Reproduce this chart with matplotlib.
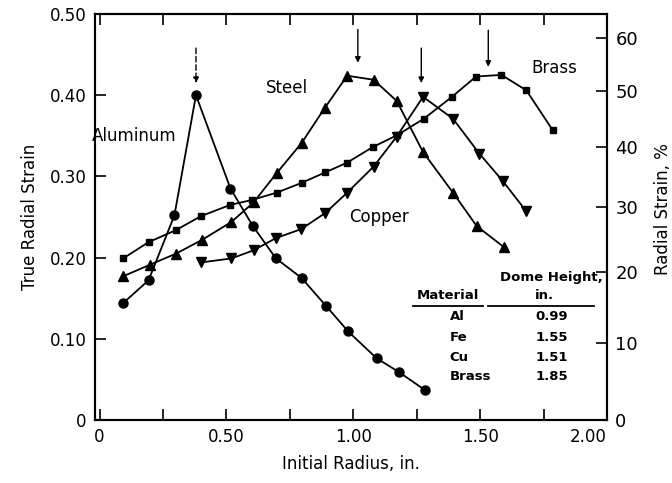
import numpy as np
import matplotlib
matplotlib.use("Agg")
import matplotlib.pyplot as plt

# values
al_x = [0.093, 0.193, 0.295, 0.380, 0.516, 0.604, 0.695, 0.796, 0.894, 0.980, 1.092, 1.180, 1.282]
al_y = [0.144, 0.172, 0.252, 0.400, 0.285, 0.239, 0.199, 0.175, 0.140, 0.109, 0.076, 0.059, 0.037]

steel_x = [0.093, 0.197, 0.302, 0.405, 0.520, 0.607, 0.698, 0.796, 0.887, 0.976, 1.080, 1.171, 1.275, 1.393, 1.486, 1.593]
steel_y = [0.177, 0.191, 0.205, 0.222, 0.244, 0.268, 0.304, 0.341, 0.384, 0.424, 0.419, 0.393, 0.330, 0.280, 0.239, 0.213]

brass_x = [0.093, 0.193, 0.302, 0.399, 0.516, 0.601, 0.698, 0.796, 0.890, 0.976, 1.076, 1.174, 1.278, 1.389, 1.484, 1.584, 1.682, 1.786]
brass_y = [0.199, 0.219, 0.234, 0.251, 0.265, 0.271, 0.280, 0.292, 0.305, 0.317, 0.336, 0.351, 0.371, 0.398, 0.423, 0.425, 0.406, 0.357]

cu_x = [0.399, 0.520, 0.607, 0.695, 0.794, 0.890, 0.976, 1.080, 1.171, 1.275, 1.393, 1.497, 1.590, 1.682]
cu_y = [0.194, 0.199, 0.209, 0.224, 0.235, 0.255, 0.280, 0.312, 0.349, 0.398, 0.371, 0.328, 0.294, 0.257]

# peak markers (x position, arrow top, arrow tip)
arrow_x = [0.380, 1.018, 1.268, 1.532]
arrow_top = [0.458, 0.481, 0.458, 0.480]
arrow_tip = [0.415, 0.440, 0.415, 0.435]
arrow_dashed = [True, False, False, False]

pct_ticks = [0, 10, 20, 30, 40, 50, 60]

table_materials = ["Al", "Fe", "Cu", "Brass"]
table_heights = ["0.99", "1.55", "1.51", "1.85"]

plt.rcParams["font.family"] = "DejaVu Sans"

fig = plt.figure(figsize=(6.72, 4.83), dpi=100)
ax = fig.add_axes([95 / 672, 63 / 483, 512 / 672, 406 / 483])

lw = 1.3
ax.plot(al_x, al_y, "-o", color="black", lw=lw, ms=6.5)
ax.plot(steel_x, steel_y, "-^", color="black", lw=lw, ms=6.5)
ax.plot(brass_x, brass_y, "-s", color="black", lw=lw, ms=5)
ax.plot(cu_x, cu_y, "-v", color="black", lw=lw, ms=6.5)

for xa, yt, yb, dash in zip(arrow_x, arrow_top, arrow_tip, arrow_dashed):
    ax.annotate("", xy=(xa, yb), xytext=(xa, yt),
                arrowprops=dict(arrowstyle="-|>", color="black", lw=1.0,
                                ls=(0, (4, 2)) if dash else "-",
                                mutation_scale=8, shrinkA=0, shrinkB=0))

ax.set_xlim(-0.018, 2.0)
ax.set_ylim(0, 0.5)
ax.set_xticks([0, 0.5, 1.0, 1.5, 2.0])
ax.set_xticklabels(["0", "0.50", "1.00", "1.50", "2.00"])
ax.set_xticks([0.25, 0.75, 1.25, 1.75], minor=True)
ax.set_yticks([0, 0.1, 0.2, 0.3, 0.4, 0.5])
ax.set_yticklabels(["0", "0.10", "0.20", "0.30", "0.40", "0.50"])
ax.tick_params(which="both", direction="in", length=8, width=1.2, top=True,
               labelsize=12, pad=6)
ax.get_xticklabels()[-1].set_ha("right")
for s in ax.spines.values():
    s.set_linewidth(1.5)

ax.set_xlabel("Initial Radius, in.", fontsize=12, labelpad=6)
ax.set_ylabel("True Radial Strain", fontsize=12, labelpad=8)

# right axis: engineering strain in percent, placed at true strain ln(1+e)
ax2 = ax.twinx()
ax2.set_ylim(ax.get_ylim())
ax2.set_yticks([np.log(1 + p / 100) for p in pct_ticks])
ax2.set_yticklabels([str(p) for p in pct_ticks])
ax2.tick_params(direction="in", length=8, width=1.2, labelsize=13, pad=6)
ax2.set_ylabel("Radial Strain, %", fontsize=12, labelpad=12)
ax2.yaxis.set_label_coords(1.092, 0.52)
for s in ax2.spines.values():
    s.set_linewidth(1.5)

# curve names
ax.text(0.135, 0.350, "Aluminum", fontsize=12, ha="center", va="center",
        bbox=dict(facecolor="white", edgecolor="none", pad=1), zorder=5, clip_on=False)
ax.text(0.740, 0.409, "Steel", fontsize=12, ha="center", va="center")
ax.text(1.100, 0.250, "Copper", fontsize=12, ha="center", va="center")
ax.text(1.793, 0.433, "Brass", fontsize=12, ha="center", va="center")

# dome height table
tsize = 9.5
ax.text(1.781, 0.176, "Dome Height,", fontsize=tsize, ha="center", va="center", weight="semibold")
ax.text(1.752, 0.153, "in.", fontsize=tsize, ha="center", va="center", weight="semibold")
ax.text(1.372, 0.153, "Material", fontsize=tsize, ha="center", va="center", weight="semibold")
ax.plot([1.236, 1.512], [0.140, 0.140], color="black", lw=1.3)
ax.plot([1.530, 1.949], [0.140, 0.140], color="black", lw=1.3)
row_y = [0.127, 0.101, 0.077, 0.054]
for m, h, ry in zip(table_materials, table_heights, row_y):
    ax.text(1.380, ry, m, fontsize=tsize, ha="left", va="center", weight="semibold")
    ax.text(1.782, ry, h, fontsize=tsize, ha="center", va="center", weight="semibold")

fig.savefig("out.png", dpi=100)
